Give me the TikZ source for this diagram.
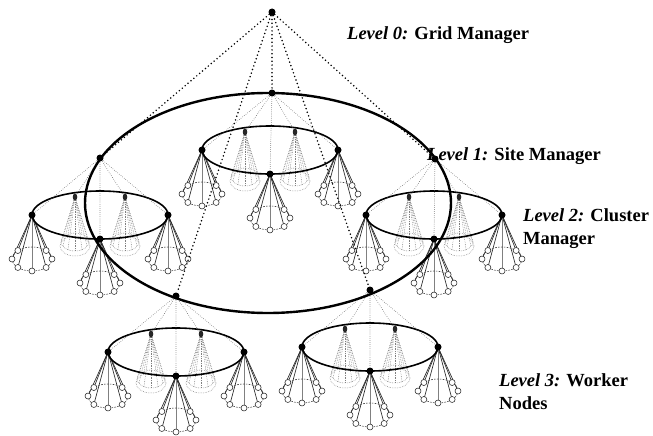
\documentclass[tikz,border=0pt]{standalone}
\usepackage{fontspec}
\setmainfont{Liberation Serif}
\usetikzlibrary{shapes.geometric}
\tikzset{
  dotnode/.style={circle,fill=black,inner sep=0pt,minimum size=7pt},
  blobnode/.style={ellipse,fill=black!85,inner sep=0pt,minimum width=4.5pt,minimum height=7pt},
  bigdots/.style={line width=1.7pt,dash pattern=on 0pt off 3.8pt,line cap=round,black},
  finedots/.style={line width=0.75pt,dash pattern=on 0pt off 2.1pt,line cap=round,black!70},
  bigring/.style={line width=2.4pt,black},
  clring/.style={line width=1.6pt,black},
  conel/.style={line width=0.65pt,black!85},
  conemid/.style={line width=0.65pt,black!50},
  conering/.style={line width=0.55pt,black!80,dash pattern=on 1.6pt off 1.3pt},
  wcirc/.style={line width=0.55pt,draw=black!85,fill=white},
  ghostl/.style={line width=0.55pt,black!50,dash pattern=on 0.6pt off 1.1pt},
  lbl/.style={anchor=base west,inner sep=0pt,font=\fontsize{18.5}{23}\selectfont\bfseries}
}
\newcommand\solidcone[2]{%
  \begin{scope}[shift={({#1},{#2})}]
    \coordinate (apex) at (0,0);
    \begin{scope}[yshift=-44pt]
      \foreach \a in {0,45,135,180,225,270,315}
        \draw[conel] (apex) -- (\a:20 and 12);
      \draw[conemid] (apex) -- (90:20 and 12);
      \draw[conering] (0,0) ellipse [x radius=20, y radius=12];
      \foreach \a in {0,45,90,135,180,225,315}
        \draw[wcirc] (\a:20 and 12) circle [radius=3];
    \end{scope}
  \end{scope}}
\newcommand\ghostcone[2]{%
  \begin{scope}[shift={({#1},{#2})}]
    \coordinate (apex) at (0,0);
    \begin{scope}[yshift=-45pt]
      \foreach \a in {0,30,...,330}
        \draw[ghostl] (apex) -- (\a:14 and 9);
      \draw[ghostl] (0,0) ellipse [x radius=14, y radius=9];
      \draw[ghostl] (0,4) ellipse [x radius=15, y radius=10];
    \end{scope}
  \end{scope}}
% #1 name, #2 cx, #3 cy, #4 site node
\newcommand\cluster[4]{%
  \ghostcone{#2-25}{#3-18}
  \ghostcone{#2+25}{#3-18}
  \solidcone{#2-68}{#3}
  \solidcone{#2+68}{#3}
  \solidcone{#2}{#3+24}
  \draw[clring] (#2,#3) ellipse [x radius=68, y radius=24];
  \node[dotnode] (#1L) at ({#2-68},{#3}) {};
  \node[dotnode] (#1R) at ({#2+68},{#3}) {};
  \node[dotnode] (#1F) at ({#2},{#3+24}) {};
  \node[blobnode] (#1B) at ({#2-25},{#3-18}) {};
  \node[blobnode] (#1C) at ({#2+25},{#3-18}) {};
  \draw[finedots] (#4) -- (#1L);
  \draw[finedots] (#4) -- (#1R);
  \draw[finedots] (#4) -- (#1B);
  \draw[finedots] (#4) -- (#1C);
  \draw[finedots] (#4) -- (#1F);
}
\begin{document}
\begin{tikzpicture}[x=1pt,y=-1pt]
\useasboundingbox (0,0) rectangle (653,436);
% grid manager and site managers
\node[dotnode] (g) at (272,12) {};
\coordinate (s1) at (272,93);
\coordinate (s2) at (100,158);
\coordinate (s3) at (435,159);
\coordinate (s4) at (176,296);
\coordinate (s5) at (370,290);
% clusters
\cluster{ca}{270}{150}{s1}
\cluster{cb}{100}{215}{s2}
\cluster{cc}{434}{215}{s3}
\cluster{cd}{176}{352}{s4}
\cluster{ce}{370}{347}{s5}
% big site ring
\draw[bigring] (268,203) ellipse [x radius=183, y radius=110];
\foreach \s in {s1,s2,s3,s4,s5} {
  \node[dotnode] (n\s) at (\s) {};
  \draw[bigdots] (g) -- (n\s);
}
% labels
\node[lbl] (t0) at (347,40) {\textit{Level 0:} Grid Manager};
\node[lbl] (t1) at (427,160) {\textit{Level 1:} Site Manager};
\node[lbl] (t2a) at (523,221) {\textit{Level 2:} Cluster};
\node[lbl] (t2b) at (523,244) {Manager};
\node[lbl] (t3a) at (499,386) {\textit{Level 3:} Worker};
\node[lbl] (t3b) at (499,409) {Nodes};
\end{tikzpicture}
\end{document}
